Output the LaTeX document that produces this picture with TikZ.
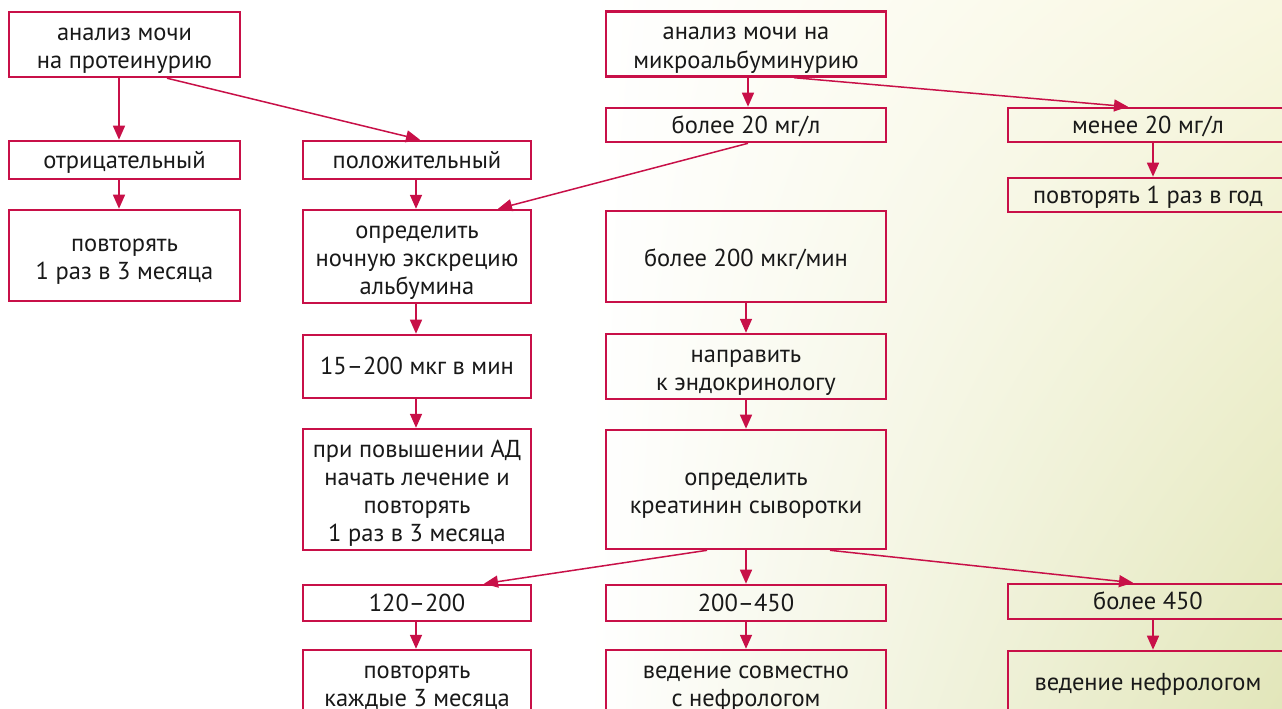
\documentclass[tikz,border=0pt]{standalone}
\usepackage{fontspec}
\setmainfont{PT Sans}
\usetikzlibrary{arrows.meta,shadings}
\definecolor{crim}{RGB}{200,16,72}
\definecolor{txt}{RGB}{25,25,25}
\definecolor{bgy}{RGB}{248,247,224}
\definecolor{bgg}{RGB}{226,230,186}
\newcommand{\mbx}[1]{\begin{tabular}{@{}c@{}}\rule{0pt}{28.4pt}#1\end{tabular}}
\newcommand{\sbx}[1]{\begin{tabular}{@{}c@{}}\rule{0pt}{25pt}#1\end{tabular}}
\begin{document}
\begin{tikzpicture}[x=1pt,y=-1pt,
  box/.style={draw=crim, line width=2.6pt, text=txt, inner sep=0pt,
    font=\fontsize{24.5}{28}\selectfont},
  arr/.style={draw=crim, line width=1.5pt, -{Triangle[length=14pt,width=12pt]}}]
\useasboundingbox (0,0) rectangle (1282,709);
\begin{scope}
\clip (0,0) rectangle (1282,709);
\fill[white] (0,0) rectangle (1282,709);
\shade[upper left=white, lower left=white, upper right=bgy, lower right=bgg] (590,0) rectangle (1282,709);
% column 1
\node[box, minimum width=231pt, minimum height=63pt] (n1) at (124.5,44.5) {\mbx{анализ мочи\\на протеинурию}};
\node[box, minimum width=231pt, minimum height=38pt] (n2) at (124.5,160) {\sbx{отрицательный}};
\node[box, minimum width=231pt, minimum height=91pt] (n3) at (124.5,255.5) {\mbx{повторять\\1 раз в 3 месяца}};
% column 2
\node[box, minimum width=228pt, minimum height=38pt] (p1) at (417,160) {\sbx{положительный}};
\node[box, minimum width=228pt, minimum height=91pt] (p2) at (417,256.5) {\mbx{определить\\ночную экскрецию\\альбумина}};
\node[box, minimum width=228pt, minimum height=63pt] (p3) at (417,366.5) {\sbx{15–200 мкг в мин}};
\node[box, minimum width=228pt, minimum height=119pt] (p4) at (417,489.5) {\mbx{при повышении АД\\начать лечение и\\повторять\\1 раз в 3 месяца}};
\node[box, minimum width=228pt, minimum height=36pt] (p5) at (417,603) {\sbx{120–200}};
\node[box, minimum width=228pt, minimum height=63pt] (p6) at (417,682.5) {\mbx{повторять\\каждые 3 месяца}};
% column 3
\node[box, minimum width=280pt, minimum height=62pt] (m1) at (746,44) {\mbx{анализ мочи на\\микроальбуминурию}};
\node[box, minimum width=280pt, minimum height=34pt] (m2) at (746,125) {\sbx{более 20 мг/л}};
\node[box, minimum width=280pt, minimum height=91pt] (m3) at (746,256.5) {\mbx{более 200 мкг/мин}};
\node[box, minimum width=280pt, minimum height=63pt] (m4) at (746,366.5) {\mbx{направить\\к эндокринологу}};
\node[box, minimum width=280pt, minimum height=119pt] (m5) at (746,489.5) {\mbx{определить\\креатинин сыворотки}};
\node[box, minimum width=280pt, minimum height=36pt] (m6) at (746,603) {\sbx{200–450}};
\node[box, minimum width=280pt, minimum height=63pt] (m7) at (746,682.5) {\mbx{ведение совместно\\с нефрологом}};
% column 4
\node[box, minimum width=280pt, minimum height=34pt] (r1) at (1148,125) {\sbx{менее 20 мг/л}};
\node[box, minimum width=280pt, minimum height=34pt] (r2) at (1148,195) {\sbx{повторять 1 раз в год}};
\node[box, minimum width=280pt, minimum height=35pt] (r3) at (1148,601.5) {\sbx{более 450}};
\node[box, minimum width=280pt, minimum height=63pt] (r4) at (1148,682.5) {\sbx{ведение нефрологом}};
% arrows
\draw[arr] ([xshift=-5.5pt]n1.south) -- ([xshift=-5.5pt]n2.north);
\draw[arr] ([xshift=-5.5pt]n2.south) -- ([xshift=-5.5pt]n3.north);
\draw[arr] ([xshift=42.5pt]n1.south) -- ([xshift=3pt]p1.north);
\draw[arr] ([xshift=-1pt]p1.south) -- ([xshift=-1pt]p2.north);
\draw[arr] ([xshift=-1pt]p2.south) -- ([xshift=-1pt]p3.north);
\draw[arr] ([xshift=-1pt]p3.south) -- ([xshift=-1pt]p4.north);
\draw[arr] ([xshift=-1pt]p5.south) -- ([xshift=-1pt]p6.north);
\draw[arr] ([xshift=2pt]m1.south) -- ([xshift=2pt]m2.north);
\draw[arr] ([xshift=48pt]m1.south) -- ([xshift=-20pt]r1.north);
\draw[arr] ([xshift=2pt]m2.south) -- ([xshift=81pt]p2.north);
\draw[arr] ([xshift=0pt]m3.south) -- ([xshift=0pt]m4.north);
\draw[arr] ([xshift=0pt]m4.south) -- ([xshift=0pt]m5.north);
\draw[arr] ([xshift=0pt]m5.south) -- ([xshift=0pt]m6.north);
\draw[arr] ([xshift=-39pt]m5.south) -- ([xshift=67pt]p5.north);
\draw[arr] ([xshift=84pt]m5.south) -- ([xshift=-15pt]r3.north);
\draw[arr] ([xshift=0pt]m6.south) -- ([xshift=0pt]m7.north);
\draw[arr] ([xshift=5pt]r1.south) -- ([xshift=5pt]r2.north);
\draw[arr] ([xshift=5pt]r3.south) -- ([xshift=5pt]r4.north);
\end{scope}
\end{tikzpicture}
\end{document}
